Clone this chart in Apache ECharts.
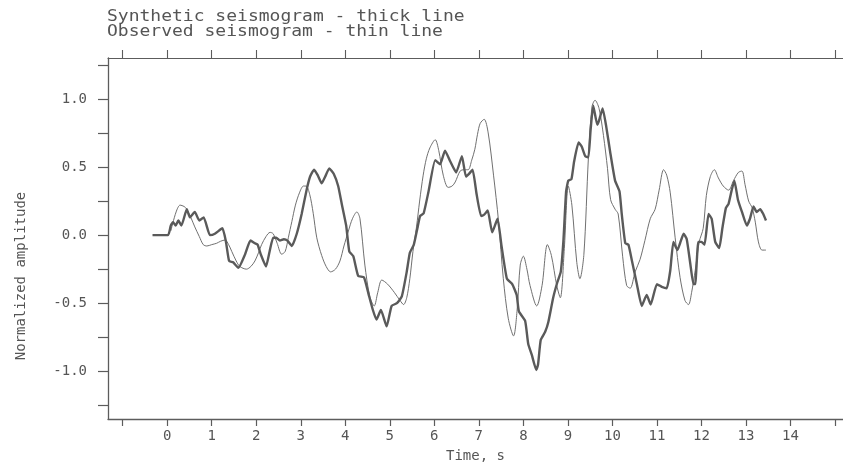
<!DOCTYPE html>
<html>
<head>
<meta charset="utf-8">
<script src="https://cdn.jsdelivr.net/npm/echarts@6/dist/echarts.min.js"></script>
<style>html,body{margin:0;padding:0;background:#fff;overflow:hidden}#c{width:843px;height:468px}</style>
</head>
<body>
<div id="c"></div>
<script>
// Synthetic seismogram (thick line)
var synTime = [-0.33,0.02,0.08,0.13,0.19,0.25,0.32,0.44,0.51,0.62,0.72,0.82,0.96,1.07,1.24,1.32,1.39,1.48,1.6,1.75,1.87,1.97,2.03,2.1,2.22,2.3,2.38,2.45,2.53,2.62,2.7,2.8,2.91,3.02,3.13,3.21,3.3,3.38,3.47,3.55,3.64,3.74,3.84,3.92,4.02,4.09,4.18,4.29,4.42,4.52,4.62,4.7,4.8,4.93,5.04,5.16,5.27,5.38,5.45,5.54,5.62,5.68,5.76,5.87,6.02,6.13,6.24,6.36,6.49,6.62,6.71,6.78,6.86,6.95,7.05,7.12,7.2,7.3,7.42,7.51,7.63,7.75,7.85,7.9,8.04,8.11,8.19,8.29,8.33,8.39,8.49,8.56,8.67,8.76,8.84,8.9,8.96,9.01,9.08,9.14,9.24,9.31,9.39,9.46,9.51,9.57,9.66,9.7,9.78,9.86,9.95,10.06,10.16,10.21,10.29,10.36,10.44,10.55,10.66,10.77,10.86,11.0,11.11,11.22,11.3,11.37,11.46,11.52,11.6,11.67,11.75,11.82,11.86,11.93,12.0,12.07,12.16,12.23,12.31,12.4,12.47,12.55,12.61,12.68,12.74,12.82,12.91,13.02,13.09,13.17,13.24,13.32,13.38,13.45];
var synAmp = [0,0,0.07,0.095,0.07,0.107,0.07,0.19,0.13,0.17,0.107,0.13,0.0,0.01,0.05,-0.05,-0.19,-0.2,-0.24,-0.14,-0.04,-0.06,-0.07,-0.14,-0.23,-0.12,-0.02,-0.02,-0.04,-0.03,-0.04,-0.08,0.01,0.155,0.33,0.43,0.48,0.44,0.38,0.43,0.49,0.45,0.36,0.23,0.07,-0.12,-0.155,-0.3,-0.31,-0.43,-0.55,-0.62,-0.55,-0.67,-0.52,-0.5,-0.45,-0.27,-0.13,-0.07,0.05,0.14,0.16,0.32,0.55,0.52,0.62,0.54,0.46,0.58,0.43,0.45,0.48,0.3,0.14,0.15,0.18,0.02,0.12,-0.08,-0.32,-0.36,-0.44,-0.56,-0.63,-0.8,-0.88,-0.99,-0.95,-0.77,-0.71,-0.64,-0.46,-0.35,-0.27,-0.04,0.32,0.40,0.41,0.54,0.68,0.65,0.58,0.57,0.77,0.95,0.81,0.84,0.93,0.8,0.61,0.40,0.32,0.155,-0.06,-0.07,-0.19,-0.36,-0.52,-0.44,-0.51,-0.36,-0.38,-0.39,-0.26,-0.05,-0.11,-0.06,0.01,-0.03,-0.21,-0.36,-0.36,-0.05,-0.05,-0.07,0.155,0.12,-0.05,-0.095,0.05,0.2,0.23,0.33,0.4,0.26,0.17,0.07,0.12,0.21,0.17,0.19,0.16,0.107];

// Observed seismogram (thin line)
var obsTime = [0.08,0.2,0.29,0.38,0.44,0.53,0.62,0.72,0.81,0.89,1.0,1.11,1.2,1.3,1.38,1.45,1.55,1.63,1.78,1.88,1.97,2.05,2.12,2.22,2.31,2.38,2.47,2.57,2.65,2.72,2.8,2.88,2.97,3.06,3.12,3.2,3.28,3.36,3.47,3.57,3.67,3.78,3.88,3.97,4.07,4.16,4.26,4.33,4.44,4.55,4.65,4.73,4.82,4.95,5.1,5.23,5.31,5.38,5.45,5.52,5.6,5.67,5.75,5.82,5.9,6.02,6.1,6.2,6.31,6.4,6.47,6.58,6.67,6.76,6.84,6.91,6.97,7.03,7.12,7.21,7.33,7.44,7.55,7.66,7.78,7.86,7.93,8.0,8.08,8.15,8.3,8.42,8.54,8.63,8.75,8.83,8.92,9.01,9.09,9.2,9.27,9.36,9.46,9.54,9.61,9.7,9.8,9.89,9.96,10.06,10.13,10.23,10.32,10.4,10.51,10.62,10.73,10.85,10.96,11.05,11.15,11.22,11.3,11.41,11.52,11.63,11.71,11.78,11.86,11.95,12.04,12.11,12.2,12.29,12.38,12.49,12.61,12.72,12.83,12.91,12.98,13.06,13.14,13.21,13.28,13.36,13.45];
var obsAmp = [0.03,0.17,0.22,0.21,0.19,0.13,0.06,-0.01,-0.07,-0.08,-0.07,-0.06,-0.045,-0.036,-0.07,-0.12,-0.19,-0.23,-0.25,-0.23,-0.19,-0.13,-0.07,-0.01,0.02,0.01,-0.06,-0.14,-0.12,-0.02,0.1,0.22,0.31,0.36,0.36,0.3,0.16,-0.02,-0.15,-0.23,-0.27,-0.25,-0.19,-0.08,0.03,0.12,0.17,0.12,-0.22,-0.45,-0.52,-0.42,-0.33,-0.36,-0.42,-0.48,-0.51,-0.46,-0.32,-0.12,0.06,0.25,0.44,0.56,0.64,0.7,0.62,0.44,0.35,0.36,0.39,0.47,0.48,0.48,0.55,0.63,0.74,0.82,0.85,0.75,0.44,0.11,-0.32,-0.61,-0.74,-0.55,-0.22,-0.155,-0.25,-0.37,-0.52,-0.37,-0.07,-0.15,-0.37,-0.46,-0.1,0.36,0.22,-0.2,-0.32,-0.14,0.56,0.94,0.99,0.93,0.73,0.49,0.26,0.19,0.155,-0.155,-0.37,-0.39,-0.27,-0.18,-0.04,0.12,0.19,0.33,0.48,0.44,0.31,-0.02,-0.31,-0.48,-0.51,-0.42,-0.26,-0.05,0.05,0.29,0.43,0.48,0.42,0.36,0.33,0.4,0.46,0.47,0.37,0.25,0.2,0.095,-0.05,-0.11,-0.11];

// Tick values / labels
var xTicks = [-1,0,1,2,3,4,5,6,7,8,9,10,11,12,13,14,15];
var xTickLabels = [0,1,2,3,4,5,6,7,8,9,10,11,12,13,14];
var yTicks = [-1.25,-1,-0.75,-0.5,-0.25,0,0.25,0.5,0.75,1,1.25];
var yTickLabels = [-1,-0.5,0,0.5,1];

var titleLines = ['Synthetic seismogram - thick line', 'Observed seismogram - thin line'];
var xName = 'Time, s';
var yName = 'Normalized amplitude';

function zip(a, b) { return a.map(function (t, i) { return [t, b[i]]; }); }

var axisColor = '#5c5c5c';
var textColor = '#555555';
var mono = '"DejaVu Sans Mono", "Liberation Mono", monospace';

var chart = echarts.init(document.getElementById('c'), null, { renderer: 'canvas', width: 843, height: 468 });
chart.setOption({
  animation: false,
  backgroundColor: '#ffffff',
  grid: { left: 108, width: 735, top: 58, height: 371, containLabel: false },
  xAxis: [{
    type: 'value', min: -1.33, max: 15.18, position: 'bottom',
    name: xName, nameLocation: 'middle', nameGap: 30,
    nameTextStyle: { fontFamily: mono, fontSize: 14, color: textColor },
    axisLine: { show: true, onZero: false, lineStyle: { color: axisColor, width: 1.3 } },
    axisTick: { show: true, inside: false, length: 7, customValues: xTicks, lineStyle: { color: axisColor, width: 1.2 } },
    axisLabel: { show: true, margin: 10, customValues: xTickLabels, fontFamily: mono, fontSize: 14, color: textColor },
    splitLine: { show: false }
  }, {
    type: 'value', min: -1.33, max: 15.18, position: 'top',
    axisLine: { show: true, onZero: false, lineStyle: { color: axisColor, width: 1.2 } },
    axisTick: { show: true, inside: false, length: 8, customValues: xTicks, lineStyle: { color: axisColor, width: 1.1 } },
    axisLabel: { show: false },
    splitLine: { show: false }
  }],
  yAxis: {
    type: 'value', min: -1.35, max: 1.3,
    axisLine: { show: true, onZero: false, lineStyle: { color: axisColor, width: 1.3 } },
    axisTick: { show: true, inside: false, length: 10, customValues: yTicks, lineStyle: { color: axisColor, width: 1.2 } },
    axisLabel: {
      show: true, margin: 21, customValues: yTickLabels, fontFamily: mono, fontSize: 14, color: textColor,
      formatter: function (v) { return v.toFixed(1); }
    },
    splitLine: { show: false }
  },
  graphic: [
    { type: 'text', x: 107, y: 17, scaleX: 1.2, style: { text: titleLines[0], font: '15px ' + mono, fill: textColor, textAlign: 'left', textVerticalAlign: 'middle' } },
    { type: 'text', x: 107, y: 32, scaleX: 1.2, style: { text: titleLines[1], font: '15px ' + mono, fill: textColor, textAlign: 'left', textVerticalAlign: 'middle' } },
    { type: 'text', x: 21, y: 276, rotation: Math.PI / 2, style: { text: yName, font: '14px ' + mono, fill: textColor, textAlign: 'center', textVerticalAlign: 'middle' } }
  ],
  series: [{
    name: 'Observed', type: 'line', xAxisIndex: 0, data: zip(obsTime, obsAmp),
    showSymbol: false, smooth: 0.3,
    lineStyle: { color: '#707070', width: 1 }, z: 2
  }, {
    name: 'Synthetic', type: 'line', xAxisIndex: 0, data: zip(synTime, synAmp),
    showSymbol: false, smooth: 0.15,
    lineStyle: { color: '#5a5a5a', width: 2.4 }, z: 3
  }]
});
</script>
</body>
</html>
